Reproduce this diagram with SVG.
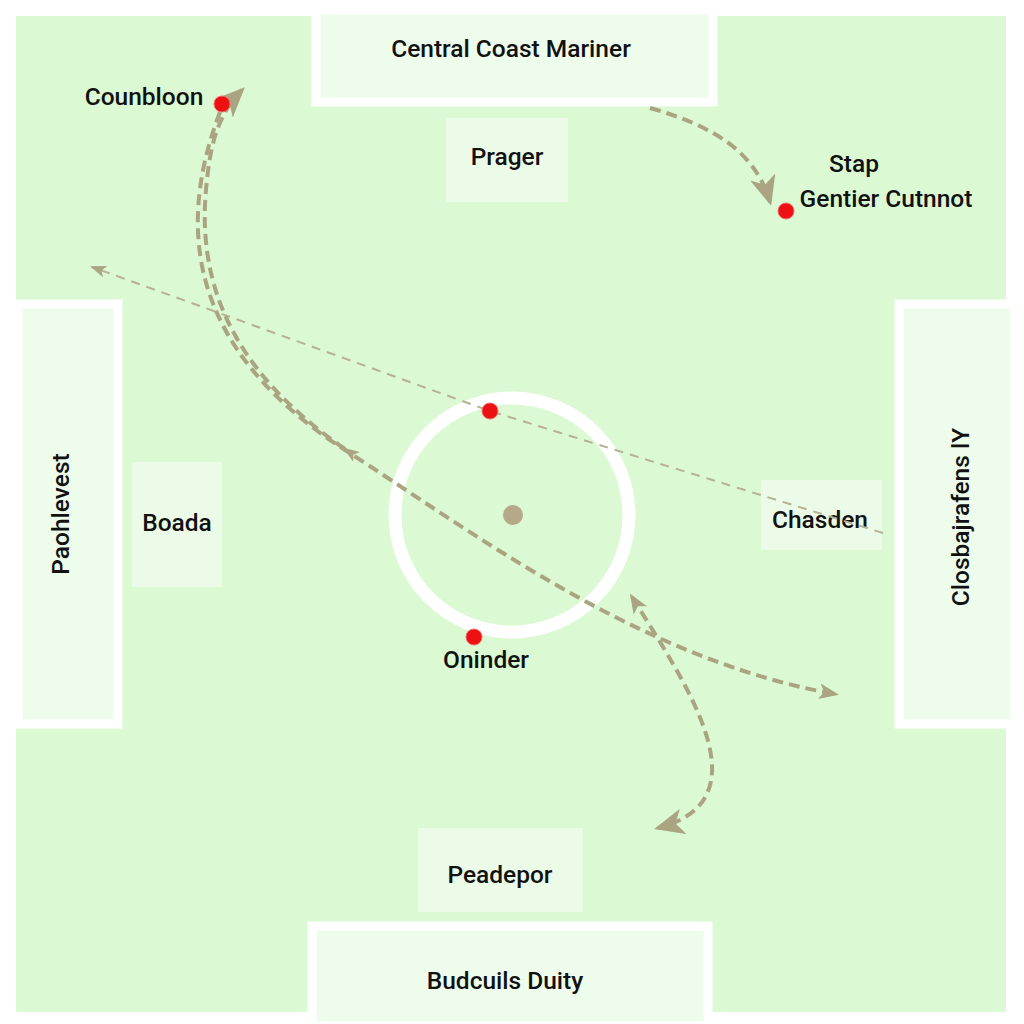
<svg xmlns="http://www.w3.org/2000/svg" width="1024" height="1024" viewBox="0 0 1024 1024">
<style>
.lbl{font-family:Roboto,"Liberation Sans",sans-serif;font-weight:500;font-size:24.5px;fill:#111;text-anchor:middle}
.frame{fill:#eefcec;stroke:#ffffff;stroke-width:9}
.sbox{fill:#ecfbe8;stroke:none}
.dot{fill:#ee1111;stroke:#f26b6b;stroke-width:1}
.con{fill:none;stroke:#aaa482;stroke-width:4;stroke-dasharray:11 6}
.thin{fill:none;stroke:#b6b094;stroke-width:2;stroke-dasharray:9 7}
</style>
<defs>
<marker id="ah" viewBox="0 0 20 16" refX="16" refY="8" markerWidth="20" markerHeight="16" markerUnits="userSpaceOnUse" orient="auto">
<path d="M0,0 L20,8 L0,16 L5,8 z" fill="#aaa482"/>
</marker>
<marker id="ahr" viewBox="0 0 20 16" refX="16" refY="8" markerWidth="20" markerHeight="16" markerUnits="userSpaceOnUse" orient="auto-start-reverse">
<path d="M0,0 L20,8 L0,16 L5,8 z" fill="#aaa482"/>
</marker>
<marker id="big" viewBox="0 0 30 26" refX="26" refY="13" markerWidth="30" markerHeight="26" markerUnits="userSpaceOnUse" orient="auto">
<path d="M0,0 L30,13 L0,26 L8,13 z" fill="#aaa482"/>
</marker>
<marker id="sm" viewBox="0 0 16 12" refX="14" refY="6" markerWidth="16" markerHeight="12" markerUnits="userSpaceOnUse" orient="auto">
<path d="M0,0 L16,6 L0,12 L4,6 z" fill="#aaa482"/>
</marker>
</defs>
<rect x="0" y="0" width="1024" height="1024" fill="#ffffff"/>
<rect x="16" y="16" width="990" height="996" fill="#dbf9d2"/>

<g id="center-circle">
<circle cx="512" cy="515" r="117" fill="none" stroke="#ffffff" stroke-width="13"/>
<circle cx="513" cy="515" r="10" fill="#b6a98a"/>
</g>

<g id="node-central-coast-mariner">
<rect class="frame" x="316" y="10" width="397" height="92"/>
<text class="lbl" x="511" y="57">Central Coast Mariner</text>
</g>
<g id="node-paohlevest">
<rect class="frame" x="18" y="304" width="100" height="420"/>
<text class="lbl" transform="translate(69,514) rotate(-90)">Paohlevest</text>
</g>
<g id="node-closbajrafens">
<rect class="frame" x="899" y="304" width="116" height="420"/>
<text class="lbl" transform="translate(969,517) rotate(-90)">Closbajrafens lY</text>
</g>
<g id="node-budcuils-duity">
<rect class="frame" x="312" y="926" width="396" height="100"/>
<text class="lbl" x="505" y="989">Budcuils Duity</text>
</g>
<g id="node-prager">
<rect class="sbox" x="446" y="118" width="122" height="84"/>
<text class="lbl" x="507" y="165">Prager</text>
</g>
<g id="node-boada">
<rect class="sbox" x="132" y="462" width="90" height="125"/>
<text class="lbl" x="177" y="531">Boada</text>
</g>
<g id="node-chasden">
<rect class="sbox" x="761" y="480" width="121" height="70"/>
<text class="lbl" x="820" y="528">Chasden</text>
</g>
<g id="node-peadepor">
<rect class="sbox" x="418" y="828" width="165" height="84"/>
<text class="lbl" x="500" y="883">Peadepor</text>
</g>

<g id="connectors">
<path class="thin" d="M883,533 L490,411 L92,267" marker-end="url(#sm)"/>
<path class="con" d="M220,112 C175,230 190,350 345,450 C470,530 640,660 835,694" marker-end="url(#ah)"/>
<path class="con" d="M345,449 C230,370 195,280 207,180 C211,140 220,112 242,90" marker-start="url(#sm)" marker-end="url(#big)"/>
<path class="con" d="M650,108 C710,125 755,150 770,202" marker-end="url(#big)"/>
<path class="con" d="M632,597 C690,690 765,800 658,828" marker-start="url(#ahr)" marker-end="url(#big)"/>
</g>

<g id="node-counbloon">
<circle class="dot" cx="222" cy="104" r="8"/>
<text class="lbl" x="144" y="105">Counbloon</text>
</g>
<g id="node-gentier-cutnnot">
<circle class="dot" cx="786" cy="211" r="8"/>
<text class="lbl" x="854" y="172">Stap</text>
<text class="lbl" x="886" y="207">Gentier Cutnnot</text>
</g>
<g id="node-top-dot">
<circle class="dot" cx="490" cy="411" r="8"/>
</g>
<g id="node-oninder">
<circle class="dot" cx="474" cy="637" r="8"/>
<text class="lbl" x="486" y="668">Oninder</text>
</g>
</svg>
